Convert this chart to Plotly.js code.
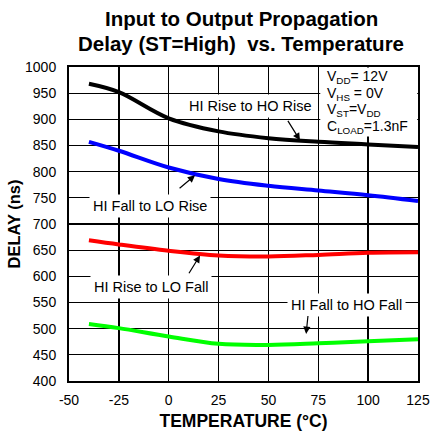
<!DOCTYPE html>
<html>
<head>
<meta charset="utf-8">
<script src="https://cdn.plot.ly/plotly-3.0.1.min.js"></script>
<style>html,body{margin:0;padding:0;background:#fff}#chart{width:430px;height:436px}</style>
</head>
<body>
<div id="chart"></div>
<script>
var temperature = [-40, -25, 0, 25, 50, 75, 100, 125];
var hiRiseHoRise = [968, 952, 902, 877, 864, 857, 852, 847];
var hiFallLoRise = [857, 840, 808, 786, 773, 764, 755, 744];
var hiRiseLoFall = [669, 661, 649, 640, 638, 641, 645, 646];
var hiFallHoFall = [509, 501, 485, 471, 469, 472, 476, 480];
var xTicks = [-50, -25, 0, 25, 50, 75, 100, 125];
var yTicks = [400, 450, 500, 550, 600, 650, 700, 750, 800, 850, 900, 950, 1000];
var titleLines = ['Input to Output Propagation', 'Delay (ST=High)  vs. Temperature'];
var conditions = ['V<sub>DD</sub>= 12V', 'V<sub>HS</sub> = 0V', 'V<sub>ST</sub>=V<sub>DD</sub>', 'C<sub>LOAD</sub>=1.3nF'];

var font = 'Liberation Sans, Arial, Helvetica, sans-serif';
function tr(y, c) {
  return {x: temperature, y: y, mode: 'lines', line: {color: c, width: 4, shape: 'spline'}, hoverinfo: 'skip', showlegend: false};
}
var data = [tr(hiRiseHoRise, '#000000'), tr(hiFallLoRise, '#0000ff'), tr(hiRiseLoFall, '#ff0000'), tr(hiFallHoFall, '#00ff00')];

function lbl(t, x, y) {
  return {text: t, x: x, y: y, xref: 'x', yref: 'y', showarrow: false, bgcolor: '#ffffff', borderpad: 3, font: {family: font, size: 14.5, color: '#000'}};
}
function arr(x, y, ax, ay) {
  return {text: '', x: x, y: y, ax: ax, ay: ay, xref: 'x', yref: 'y', axref: 'x', ayref: 'y', showarrow: true, arrowhead: 2, arrowsize: 1.2, arrowwidth: 1.2, arrowcolor: '#000'};
}
function ttl(t, y) {
  return {text: '<b>' + t + '</b>', x: 0.493, y: y, xref: 'paper', yref: 'paper', xanchor: 'center', yanchor: 'middle', showarrow: false,
          font: {family: font, size: 20.5, color: '#000'}};
}
function cond(t, y) {
  return {text: t, x: 78.4, y: y, xref: 'x', yref: 'y', xanchor: 'left', yanchor: 'middle', showarrow: false,
          font: {family: font, size: 14, color: '#000'}};
}
var annotations = [
  ttl(titleLines[0], 1.156),
  ttl(titleLines[1], 1.076),
  lbl('HI Rise to HO Rise', 40.8, 925),
  lbl('HI Fall to LO Rise', -9.4, 734),
  lbl('HI Rise to LO Fall', -8.9, 580),
  lbl('HI Fall to HO Fall', 88.9, 546),
  arr(65.8, 860, 59.3, 900),
  arr(13.2, 793, 4.7, 766),
  arr(15.7, 640, 9.7, 603),
  arr(68.9, 490, 69.9, 527),
  cond(conditions[0], 980),
  cond(conditions[1], 948.5),
  cond(conditions[2], 917),
  cond(conditions[3], 884.5)
];

var layout = {
  width: 430, height: 436,
  margin: {l: 69, r: 12, t: 67, b: 55},
  paper_bgcolor: '#fff', plot_bgcolor: '#fff',
  xaxis: {range: [-50, 125], tickvals: xTicks, ticktext: xTicks.map(String), showgrid: true, gridcolor: '#000', gridwidth: 1.3,
          zeroline: false, showline: true, linecolor: '#000', linewidth: 2, mirror: true, ticks: '', ticklabelstandoff: 5,
          tickfont: {family: font, size: 14, color: '#000'},
          title: {text: '<b>TEMPERATURE (°C)</b>', font: {family: font, size: 17.5, color: '#000'}, standoff: 8}},
  yaxis: {range: [400, 1000], tickvals: yTicks, ticktext: yTicks.map(String), showgrid: true, gridcolor: '#000', gridwidth: 1.3,
          zeroline: false, showline: true, linecolor: '#000', linewidth: 2, mirror: true, ticks: '', ticklabelstandoff: 8,
          tickfont: {family: font, size: 14, color: '#000'},
          title: {text: '<b>DELAY (ns)</b>', font: {family: font, size: 16.5, color: '#000'}, standoff: 0}},
  shapes: [{type: 'rect', xref: 'x', yref: 'y', x0: 76, x1: 124.6, y0: 867, y1: 999, fillcolor: '#fff', line: {width: 0}, layer: 'above'}],
  annotations: annotations
};
Plotly.newPlot('chart', data, layout, {staticPlot: true, displayModeBar: false});
</script>
</body>
</html>
